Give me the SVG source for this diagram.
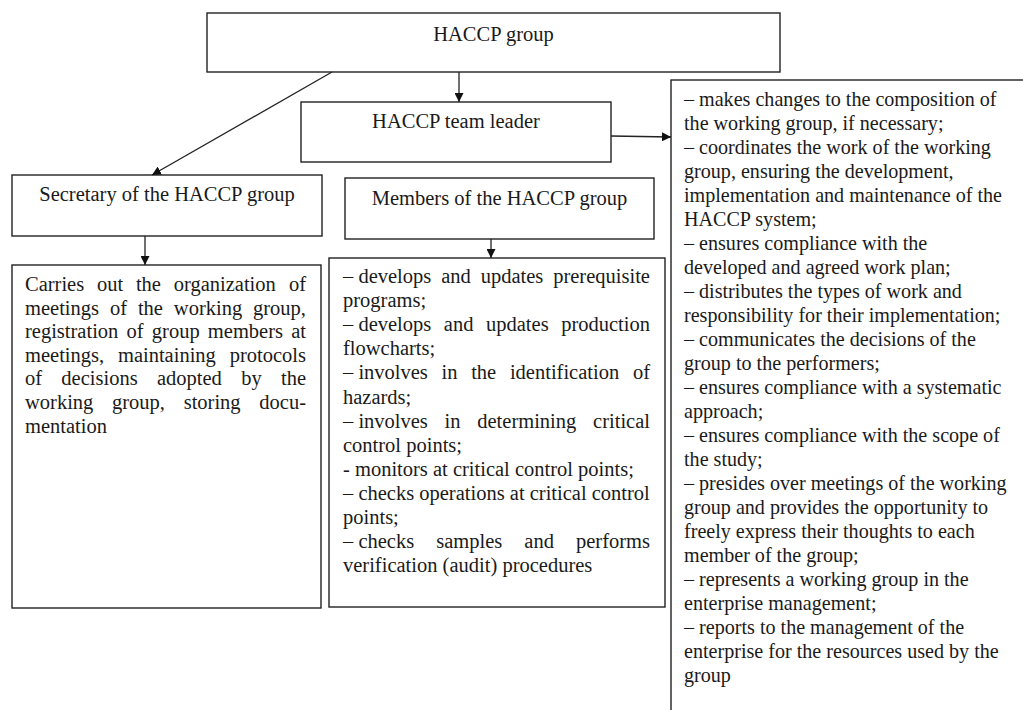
<svg xmlns="http://www.w3.org/2000/svg" width="1023" height="710" viewBox="0 0 1023 710">
<style>
.box{fill:#fff;stroke:#222;stroke-width:1.4}
.t{font-family:"Liberation Serif","Times New Roman",serif;font-size:20.5px;fill:#1a1a1a}
.r{font-size:20.1px}
.c{text-anchor:middle}
.ln{stroke:#222;stroke-width:1.3;fill:none}
</style>
<defs>
<marker id="ah" markerUnits="userSpaceOnUse" viewBox="0 0 10 10" refX="10" refY="5" markerWidth="9" markerHeight="9" orient="auto">
<path d="M0,0 L10,5 L0,10 z" fill="#111"/>
</marker>
</defs>
<rect width="1023" height="710" fill="#fff"/>

<g id="haccp-group">
<rect class="box" x="207" y="13" width="573" height="59"/>
<text class="t c" x="493.5" y="41">HACCP group</text>
</g>

<g id="team-leader">
<rect class="box" x="301" y="102" width="310" height="60"/>
<text class="t c" x="456" y="128">HACCP team leader</text>
</g>

<g id="secretary">
<rect class="box" x="12" y="175" width="310" height="61"/>
<text class="t c" x="167" y="201">Secretary of the HACCP group</text>
</g>

<g id="members">
<rect class="box" x="345" y="178" width="309" height="61"/>
<text class="t c" x="499.5" y="205">Members of the HACCP group</text>
</g>

<g id="secretary-duties">
<rect class="box" x="12" y="265" width="309" height="343"/>
<text class="t"><tspan x="25" y="291">Carries</tspan><tspan x="96.95" y="291">out</tspan><tspan x="135.9" y="291">the</tspan><tspan x="173.7" y="291">organization</tspan><tspan x="288.93" y="291">of</tspan></text>
<text class="t"><tspan x="25" y="314.6">meetings</tspan><tspan x="109.92" y="314.6">of</tspan><tspan x="137.89" y="314.6">the</tspan><tspan x="173.83" y="314.6">working</tspan><tspan x="253.05" y="314.6">group,</tspan></text>
<text class="t"><tspan x="25" y="338.2">registration</tspan><tspan x="126.57" y="338.2">of</tspan><tspan x="151.84" y="338.2">group</tspan><tspan x="207.86" y="338.2">members</tspan><tspan x="291.2" y="338.2">at</tspan></text>
<text class="t"><tspan x="25" y="361.8">meetings,</tspan><tspan x="117.95" y="361.8">maintaining</tspan><tspan x="229.7" y="361.8">protocols</tspan></text>
<text class="t"><tspan x="25" y="385.4">of</tspan><tspan x="61.37" y="385.4">decisions</tspan><tspan x="156.96" y="385.4">adopted</tspan><tspan x="241.15" y="385.4">by</tspan><tspan x="280.94" y="385.4">the</tspan></text>
<text class="t"><tspan x="25" y="409">working</tspan><tspan x="112.03" y="409">group,</tspan><tspan x="183.68" y="409">storing</tspan><tspan x="259.33" y="409">docu-</tspan></text>
<text class="t" x="25" y="432.6">mentation</text>
</g>

<g id="members-duties">
<rect class="box" x="329" y="258" width="336" height="349"/>
<text class="t"><tspan x="343" y="283">– develops</tspan><tspan x="441.15" y="283">and</tspan><tspan x="480.65" y="283">updates</tspan><tspan x="553.2" y="283">prerequisite</tspan></text>
<text class="t" x="343" y="307.1">programs;</text>
<text class="t"><tspan x="343" y="331.2">– develops</tspan><tspan x="443.82" y="331.2">and</tspan><tspan x="485.99" y="331.2">updates</tspan><tspan x="561.19" y="331.2">production</tspan></text>
<text class="t" x="343" y="355.3">flowcharts;</text>
<text class="t"><tspan x="343" y="379.4">– involves</tspan><tspan x="441.54" y="379.4">in</tspan><tspan x="471.18" y="379.4">the</tspan><tspan x="509.92" y="379.4">identification</tspan><tspan x="632.94" y="379.4">of</tspan></text>
<text class="t" x="343" y="403.5">hazards;</text>
<text class="t"><tspan x="343" y="427.6">– involves</tspan><tspan x="444.58" y="427.6">in</tspan><tspan x="477.26" y="427.6">determining</tspan><tspan x="593.07" y="427.6">critical</tspan></text>
<text class="t" x="343" y="451.7">control points;</text>
<text class="t" x="343" y="475.8">- monitors at critical control points;</text>
<text class="t" x="343" y="499.9">– checks operations at critical control</text>
<text class="t" x="343" y="524">points;</text>
<text class="t"><tspan x="343" y="548.1">– checks</tspan><tspan x="436.22" y="548.1">samples</tspan><tspan x="524.33" y="548.1">and</tspan><tspan x="575.99" y="548.1">performs</tspan></text>
<text class="t" x="343" y="572.2">verification (audit) procedures</text>
</g>

<g id="leader-duties">
<rect class="box" x="671" y="80" width="400" height="700"/>
<text class="t r">
<tspan x="684" y="105.5">– makes changes to the composition of</tspan>
<tspan x="684" dy="24">the working group, if necessary;</tspan>
<tspan x="684" dy="24">– coordinates the work of the working</tspan>
<tspan x="684" dy="24">group, ensuring the development,</tspan>
<tspan x="684" dy="24">implementation and maintenance of the</tspan>
<tspan x="684" dy="24">HACCP system;</tspan>
<tspan x="684" dy="24">– ensures compliance with the</tspan>
<tspan x="684" dy="24">developed and agreed work plan;</tspan>
<tspan x="684" dy="24">– distributes the types of work and</tspan>
<tspan x="684" dy="24">responsibility for their implementation;</tspan>
<tspan x="684" dy="24">– communicates the decisions of the</tspan>
<tspan x="684" dy="24">group to the performers;</tspan>
<tspan x="684" dy="24">– ensures compliance with a systematic</tspan>
<tspan x="684" dy="24">approach;</tspan>
<tspan x="684" dy="24">– ensures compliance with the scope of</tspan>
<tspan x="684" dy="24">the study;</tspan>
<tspan x="684" dy="24">– presides over meetings of the working</tspan>
<tspan x="684" dy="24">group and provides the opportunity to</tspan>
<tspan x="684" dy="24">freely express their thoughts to each</tspan>
<tspan x="684" dy="24">member of the group;</tspan>
<tspan x="684" dy="24">– represents a working group in the</tspan>
<tspan x="684" dy="24">enterprise management;</tspan>
<tspan x="684" dy="24">– reports to the management of the</tspan>
<tspan x="684" dy="24">enterprise for the resources used by the</tspan>
<tspan x="684" dy="24">group</tspan>
</text>
</g>

<g id="connectors">
<line class="ln" x1="459" y1="72" x2="459" y2="102" marker-end="url(#ah)"/>
<line class="ln" x1="332" y1="72" x2="152" y2="175" marker-end="url(#ah)"/>
<line class="ln" x1="611" y1="136" x2="671" y2="137" marker-end="url(#ah)"/>
<line class="ln" x1="145" y1="236" x2="145" y2="265" marker-end="url(#ah)"/>
<line class="ln" x1="491" y1="239" x2="491" y2="258" marker-end="url(#ah)"/>
</g>
</svg>
